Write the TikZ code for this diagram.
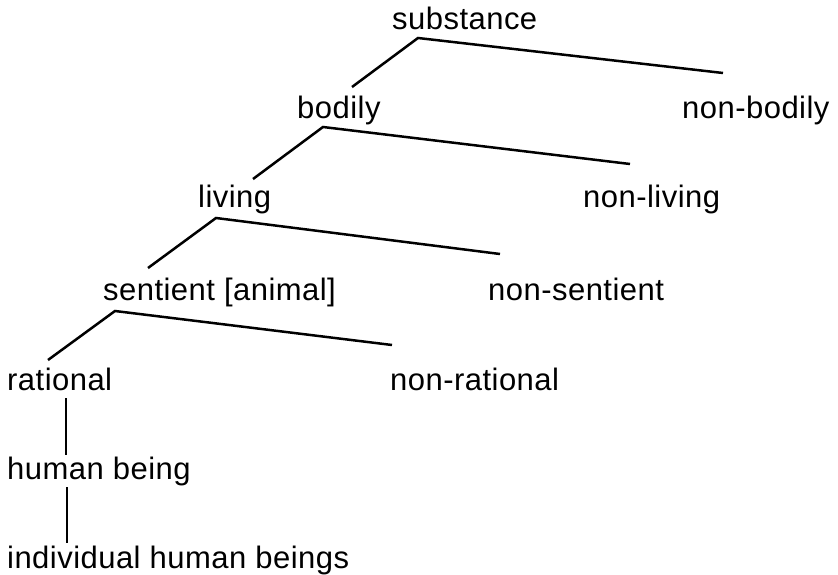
\documentclass[tikz,border=0pt]{standalone}
\usepackage{fontspec}
\newfontfamily\treefont[LetterSpace=1.5]{Liberation Sans}
\begin{document}
\begin{tikzpicture}[x=1pt,y=-1pt,
  term/.style={inner sep=0pt, anchor=base west, font=\treefont\fontsize{31}{36}\selectfont},
  branch/.style={line width=2.5pt, line cap=butt}]
\useasboundingbox (0,0) rectangle (838,575);

% terms of the division
\node[term] (substance)  at (392,30)  {substance};
\node[term] (bodily)     at (297,119) {bodily};
\node[term] (nonbodily)  at (682,119) {non-bodily};
\node[term] (living)     at (198,207) {living};
\node[term] (nonliving)  at (583,207) {non-living};
\node[term] (sentient)   at (103,300) {sentient [animal]};
\node[term] (nonsentient) at (488,300) {non-sentient};
\node[term] (rational)   at (7,390)   {rational};
\node[term] (nonrational) at (390,390) {non-rational};
\node[term] (human)      at (7,479)   {human being};
\node[term] (individual) at (7,568)   {individual human beings};

% fork points under each divided term and line ends above its two parts
\coordinate (substance-fork) at (418,38);
\coordinate (bodily-top)     at (352,87);
\coordinate (nonbodily-top)  at (723,73);
\coordinate (bodily-fork)    at (323,127);
\coordinate (living-top)     at (253,179);
\coordinate (nonliving-top)  at (630,164);
\coordinate (living-fork)    at (216,218);
\coordinate (sentient-top)   at (148,268);
\coordinate (nonsentient-top) at (500,254);
\coordinate (sentient-fork)  at (115,311);
\coordinate (rational-top)   at (48,360);
\coordinate (nonrational-top) at (392,345);
\coordinate (rational-foot)  at (66,398);
\coordinate (human-head)     at (66,455);
\coordinate (human-foot)     at (67,487);
\coordinate (individual-head) at (67,543);

\draw[branch] (bodily-top) -- (substance-fork) -- (nonbodily-top);
\draw[branch] (living-top) -- (bodily-fork) -- (nonliving-top);
\draw[branch] (sentient-top) -- (living-fork) -- (nonsentient-top);
\draw[branch] (rational-top) -- (sentient-fork) -- (nonrational-top);
\draw[branch] (rational-foot) -- (human-head);
\draw[branch] (human-foot) -- (individual-head);
\end{tikzpicture}
\end{document}
